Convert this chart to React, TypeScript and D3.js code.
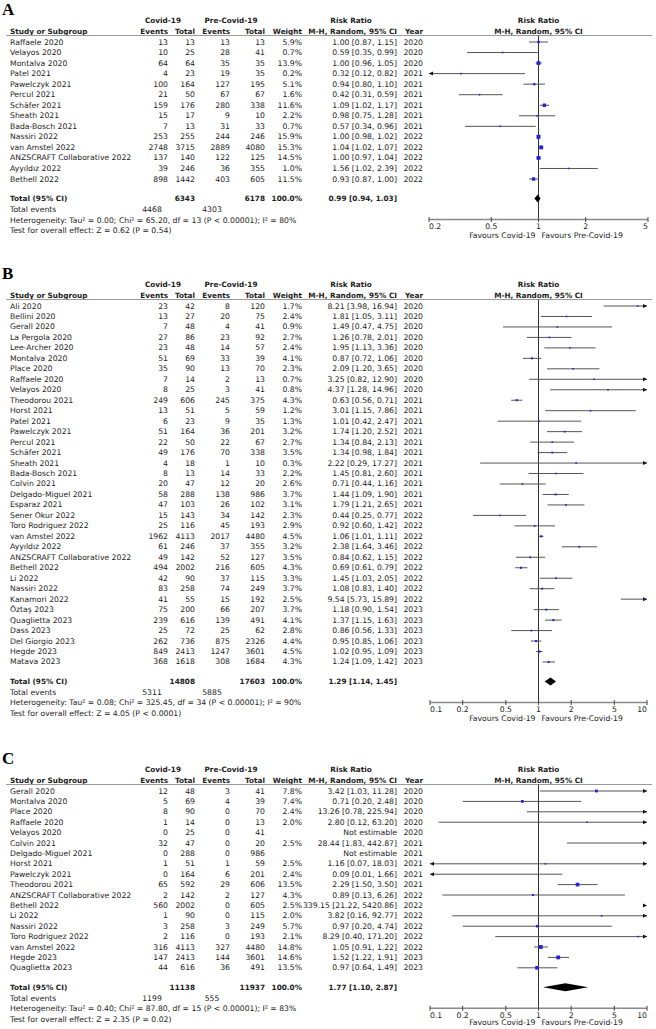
import React from "react";
import * as d3 from "d3";

// ---------------- Panel A ----------------
const studiesA = ["Raffaele 2020", "Velayos 2020", "Montalva 2020", "Patel 2021", "Pawelczyk 2021", "Percul 2021", "Schäfer 2021", "Sheath 2021", "Bada-Bosch 2021", "Nassiri 2022", "van Amstel 2022", "ANZSCRAFT Collaborative 2022", "Ayyıldız 2022", "Bethell 2022"];
const covidEventsA = [13, 10, 64, 4, 100, 21, 159, 15, 7, 253, 2748, 137, 39, 898];
const covidTotalA = [13, 25, 64, 23, 164, 50, 176, 17, 13, 255, 3715, 140, 246, 1442];
const preEventsA = [13, 28, 35, 19, 127, 67, 280, 9, 31, 244, 2889, 122, 36, 403];
const preTotalA = [13, 41, 35, 35, 195, 67, 338, 10, 33, 246, 4080, 125, 355, 605];
const weightA = [5.9, 0.7, 13.9, 0.2, 5.1, 1.6, 11.6, 2.2, 0.7, 15.9, 15.3, 14.5, 1.0, 11.5];
const rrA = [1.0, 0.59, 1.0, 0.32, 0.94, 0.42, 1.09, 0.98, 0.57, 1.0, 1.04, 1.0, 1.56, 0.93];
const lowA = [0.87, 0.35, 0.96, 0.12, 0.8, 0.31, 1.02, 0.75, 0.34, 0.98, 1.02, 0.97, 1.02, 0.87];
const highA = [1.15, 0.99, 1.05, 0.82, 1.1, 0.59, 1.17, 1.28, 0.96, 1.02, 1.07, 1.04, 2.39, 1.0];
const yearA = [2020, 2020, 2020, 2021, 2021, 2021, 2021, 2021, 2021, 2022, 2022, 2022, 2022, 2022];
const totalsA = [6343, 6178];
const totalEventsA = [4468, 4303];
const pooledA = [0.99, 0.94, 1.03];
const hetA = "Heterogeneity: Tau² = 0.00; Chi² = 65.20, df = 13 (P < 0.00001); I² = 80%";
const testA = "Test for overall effect: Z = 0.62 (P = 0.54)";
const ticksA = [0.2, 0.5, 1, 2, 5];

// ---------------- Panel B ----------------
const studiesB = ["Ali 2020", "Bellini 2020", "Gerall 2020", "La Pergola 2020", "Lee-Archer 2020", "Montalva 2020", "Place 2020", "Raffaele 2020", "Velayos 2020", "Theodorou 2021", "Horst 2021", "Patel 2021", "Pawelczyk 2021", "Percul 2021", "Schäfer 2021", "Sheath 2021", "Bada-Bosch 2021", "Colvin 2021", "Delgado-Miguel 2021", "Esparaz 2021", "Sener Okur 2022", "Toro Rodriguez 2022", "van Amstel 2022", "Ayyıldız 2022", "ANZSCRAFT Collaborative 2022", "Bethell 2022", "Li 2022", "Nassiri 2022", "Kanamori 2022", "Öztaş 2023", "Quaglietta 2023", "Dass 2023", "Del Giorgio 2023", "Hegde 2023", "Matava 2023"];
const covidEventsB = [23, 13, 7, 27, 23, 51, 35, 7, 8, 249, 13, 6, 51, 22, 49, 4, 8, 20, 58, 47, 15, 25, 1962, 61, 49, 494, 42, 83, 41, 75, 239, 25, 262, 849, 368];
const covidTotalB = [42, 27, 48, 86, 48, 69, 90, 14, 25, 606, 51, 23, 164, 50, 176, 18, 13, 47, 288, 103, 143, 116, 4113, 246, 142, 2002, 90, 258, 55, 200, 616, 72, 736, 2413, 1618];
const preEventsB = [8, 20, 4, 23, 14, 33, 13, 2, 3, 245, 5, 9, 36, 22, 70, 1, 14, 12, 138, 26, 34, 45, 2017, 37, 52, 216, 37, 74, 15, 66, 139, 25, 875, 1247, 308];
const preTotalB = [120, 75, 41, 92, 57, 39, 70, 13, 41, 375, 59, 35, 201, 67, 338, 10, 33, 20, 986, 102, 142, 193, 4480, 355, 127, 605, 115, 249, 192, 207, 491, 62, 2326, 3601, 1684];
const weightB = [1.7, 2.4, 0.9, 2.7, 2.4, 4.1, 2.3, 0.7, 0.8, 4.3, 1.2, 1.3, 3.2, 2.7, 3.5, 0.3, 2.2, 2.6, 3.7, 3.1, 2.3, 2.9, 4.5, 3.2, 3.5, 4.3, 3.3, 3.7, 2.5, 3.7, 4.1, 2.8, 4.4, 4.5, 4.3];
const rrB = [8.21, 1.81, 1.49, 1.26, 1.95, 0.87, 2.09, 3.25, 4.37, 0.63, 3.01, 1.01, 1.74, 1.34, 1.34, 2.22, 1.45, 0.71, 1.44, 1.79, 0.44, 0.92, 1.06, 2.38, 0.84, 0.69, 1.45, 1.08, 9.54, 1.18, 1.37, 0.86, 0.95, 1.02, 1.24];
const lowB = [3.98, 1.05, 0.47, 0.78, 1.13, 0.72, 1.2, 0.82, 1.28, 0.56, 1.15, 0.42, 1.2, 0.84, 0.98, 0.29, 0.81, 0.44, 1.09, 1.21, 0.25, 0.6, 1.01, 1.64, 0.62, 0.61, 1.03, 0.83, 5.73, 0.9, 1.15, 0.56, 0.85, 0.95, 1.09];
const highB = [16.94, 3.11, 4.75, 2.01, 3.36, 1.06, 3.65, 12.9, 14.96, 0.71, 7.86, 2.47, 2.52, 2.13, 1.84, 17.27, 2.6, 1.16, 1.9, 2.65, 0.77, 1.42, 1.11, 3.46, 1.15, 0.79, 2.05, 1.4, 15.89, 1.54, 1.63, 1.33, 1.06, 1.09, 1.42];
const yearB = [2020, 2020, 2020, 2020, 2020, 2020, 2020, 2020, 2020, 2021, 2021, 2021, 2021, 2021, 2021, 2021, 2021, 2021, 2021, 2021, 2022, 2022, 2022, 2022, 2022, 2022, 2022, 2022, 2022, 2023, 2023, 2023, 2023, 2023, 2023];
const totalsB = [14808, 17603];
const totalEventsB = [5311, 5885];
const pooledB = [1.29, 1.14, 1.45];
const hetB = "Heterogeneity: Tau² = 0.08; Chi² = 325.45, df = 34 (P < 0.00001); I² = 90%";
const testB = "Test for overall effect: Z = 4.05 (P < 0.0001)";
const ticksBC = [0.1, 0.2, 0.5, 1, 2, 5, 10];

// ---------------- Panel C ----------------
const studiesC = ["Gerall 2020", "Montalva 2020", "Place 2020", "Raffaele 2020", "Velayos 2020", "Colvin 2021", "Delgado-Miguel 2021", "Horst 2021", "Pawelczyk 2021", "Theodorou 2021", "ANZSCRAFT Collaborative 2022", "Bethell 2022", "Li 2022", "Nassiri 2022", "Toro Rodriguez 2022", "van Amstel 2022", "Hegde 2023", "Quaglietta 2023"];
const covidEventsC = [12, 5, 8, 1, 0, 32, 0, 1, 0, 65, 2, 560, 1, 3, 2, 316, 147, 44];
const covidTotalC = [48, 69, 90, 14, 25, 47, 288, 51, 164, 592, 142, 2002, 90, 258, 116, 4113, 2413, 616];
const preEventsC = [3, 4, 0, 0, 0, 0, 0, 1, 6, 29, 2, 0, 0, 3, 0, 327, 144, 36];
const preTotalC = [41, 39, 70, 13, 41, 20, 986, 59, 201, 606, 127, 605, 115, 249, 193, 4480, 3601, 491];
const weightC = [7.8, 7.4, 2.4, 2.0, null, 2.5, null, 2.5, 2.4, 13.5, 4.3, 2.5, 2.0, 5.7, 2.1, 14.8, 14.6, 13.5];
const rrC = [3.42, 0.71, 13.26, 2.8, null, 28.44, null, 1.16, 0.09, 2.29, 0.89, 339.15, 3.82, 0.97, 8.29, 1.05, 1.52, 0.97];
const lowC = [1.03, 0.2, 0.78, 0.12, null, 1.83, null, 0.07, 0.01, 1.5, 0.13, 21.22, 0.16, 0.2, 0.4, 0.91, 1.22, 0.64];
const highC = [11.28, 2.48, 225.94, 63.2, null, 442.87, null, 18.03, 1.66, 3.5, 6.26, 5420.86, 92.77, 4.74, 171.2, 1.22, 1.91, 1.49];
const yearC = [2020, 2020, 2020, 2020, 2020, 2021, 2021, 2021, 2021, 2021, 2022, 2022, 2022, 2022, 2022, 2022, 2023, 2023];
const totalsC = [11138, 11937];
const totalEventsC = [1199, 555];
const pooledC = [1.77, 1.1, 2.87];
const hetC = "Heterogeneity: Tau² = 0.40; Chi² = 87.80, df = 15 (P < 0.00001); I² = 83%";
const testC = "Test for overall effect: Z = 2.35 (P = 0.02)";

const FONT = "'DejaVu Sans', Verdana, sans-serif";
const FS = 7.7;
const FSB = 7.3;
const TXT = "#1c1c1c";
const COL = { name: 10, ce: 168, ct: 195, pe: 230, pt: 265, w: 302, ci: 397, yr: 423, evC: 152, evP: 212 };

const fmtCI = (r: number | null, l: number | null, h: number | null) =>
  r == null ? "Not estimable" : `${r.toFixed(2)} [${l!.toFixed(2)}, ${h!.toFixed(2)}]`;

function T(props: any) {
  const { x, y, anchor = "start", bold = false, children, size } = props;
  return (
    <text x={x} y={y} textAnchor={anchor} dominantBaseline="central" fontFamily={FONT}
      fontSize={size ?? (bold ? FSB : FS)} fontWeight={bold ? "bold" : "normal"} fill={TXT}>
      {children}
    </text>
  );
}

function Panel(p: any) {
  const { label, first, rowH, studies, ce, ct, pe, pt, w, rr, lo, hi, years, totals, totEv, pooled, het, test, domain, range, ticks, favGap = 16 } = p;
  const x = d3.scaleLog().domain(domain).range(range);
  const n = studies.length;
  const lineY = first - 6.5;
  const lastY = first + (n - 1) * rowH;
  const totY = lastY + 19.5;
  const axisY = totY + 21;
  const x1 = x(1);
  const [dLo, dHi] = domain;
  const arrowR = (ax: number, y: number) => `M${ax},${y}L${ax - 4},${y - 2}L${ax - 4},${y + 2}Z`;
  const arrowL = (ax: number, y: number) => `M${ax},${y}L${ax + 4},${y - 2}L${ax + 4},${y + 2}Z`;
  return (
    <g>
      <text x={2} y={first - 27} fontFamily="'Liberation Serif', 'Times New Roman', serif" fontWeight="bold" fontSize={17} fill="#000">{label}</text>
      {/* header row 1 */}
      <T x={163} y={first - 22} anchor="middle" bold>Covid-19</T>
      <T x={231} y={first - 22} anchor="middle" bold>Pre-Covid-19</T>
      <T x={351} y={first - 22} anchor="middle" bold>Risk Ratio</T>
      <T x={x1} y={first - 22} anchor="middle" bold>Risk Ratio</T>
      {/* header row 2 */}
      <T x={COL.name} y={first - 11} bold>Study or Subgroup</T>
      <T x={COL.ce} y={first - 11} anchor="end" bold>Events</T>
      <T x={COL.ct} y={first - 11} anchor="end" bold>Total</T>
      <T x={COL.pe} y={first - 11} anchor="end" bold>Events</T>
      <T x={COL.pt} y={first - 11} anchor="end" bold>Total</T>
      <T x={COL.w} y={first - 11} anchor="end" bold>Weight</T>
      <T x={COL.ci} y={first - 11} anchor="end" bold>M-H, Random, 95% CI</T>
      <T x={COL.yr} y={first - 11} anchor="end" bold>Year</T>
      <T x={x1} y={first - 11} anchor="middle" bold>M-H, Random, 95% CI</T>
      <line x1={6} x2={652} y1={lineY} y2={lineY} stroke="#9a9a9a" strokeWidth={1.2} />
      {/* vertical line of no effect */}
      <line x1={x1} x2={x1} y1={lineY} y2={axisY} stroke="#333" strokeWidth={1} />
      {studies.map((s: string, i: number) => {
        const y = first + i * rowH;
        const r = rr[i], l = lo[i], h = hi[i];
        const elems: any[] = [];
        if (r != null) {
          const cl = Math.min(Math.max(l, dLo), dHi);
          const ch = Math.max(Math.min(h, dHi), dLo);
          elems.push(<line key="ci" x1={x(cl)} x2={x(ch)} y1={y} y2={y} stroke="#555" strokeWidth={1} />);
          if (h > dHi) elems.push(<path key="ar" d={arrowR(range[1], y)} fill="#111" />);
          if (l < dLo) elems.push(<path key="al" d={arrowL(range[0], y)} fill="#111" />);
          if (r >= dLo && r <= dHi) {
            const sz = Math.max(1.6, Math.sqrt(w[i]));
            elems.push(<rect key="sq" x={x(r) - sz / 2} y={y - sz / 2} width={sz} height={sz} fill="#2424d8" />);
          }
        }
        return (
          <g key={i}>
            <T x={COL.name} y={y}>{s}</T>
            <T x={COL.ce} y={y} anchor="end">{ce[i]}</T>
            <T x={COL.ct} y={y} anchor="end">{ct[i]}</T>
            <T x={COL.pe} y={y} anchor="end">{pe[i]}</T>
            <T x={COL.pt} y={y} anchor="end">{pt[i]}</T>
            <T x={COL.w} y={y} anchor="end">{w[i] == null ? "" : w[i].toFixed(1) + "%"}</T>
            <T x={COL.ci} y={y} anchor="end">{fmtCI(r, l, h)}</T>
            <T x={COL.yr} y={y} anchor="end">{years[i]}</T>
            {elems}
          </g>
        );
      })}
      {/* total row */}
      <T x={COL.name} y={totY} bold>Total (95% CI)</T>
      <T x={COL.ct} y={totY} anchor="end" bold>{totals[0]}</T>
      <T x={COL.pt} y={totY} anchor="end" bold>{totals[1]}</T>
      <T x={COL.w} y={totY} anchor="end" bold>100.0%</T>
      <T x={COL.ci} y={totY} anchor="end" bold>{fmtCI(pooled[0], pooled[1], pooled[2])}</T>
      <path d={`M${x(pooled[1])},${totY}L${x(pooled[0])},${totY - 4}L${x(pooled[2])},${totY}L${x(pooled[0])},${totY + 4}Z`} fill="#000" />
      <T x={COL.name} y={totY + 11}>Total events</T>
      <T x={COL.evC} y={totY + 11} anchor="middle">{totEv[0]}</T>
      <T x={COL.evP} y={totY + 11} anchor="middle">{totEv[1]}</T>
      <T x={COL.name} y={totY + 21.5}>{het}</T>
      <T x={COL.name} y={totY + 32}>{test}</T>
      {/* axis */}
      <line x1={range[0]} x2={range[1]} y1={axisY} y2={axisY} stroke="#8a8a8a" strokeWidth={1.5} />
      {ticks.map((t: number, i: number) => (
        <g key={t}>
          <line x1={x(t)} x2={x(t)} y1={axisY - 2.5} y2={axisY + 2.5} stroke="#444" strokeWidth={1} />
          <T x={x(t)} y={axisY + 7} anchor={i === 0 ? "start" : i === ticks.length - 1 ? "end" : "middle"}>{String(t)}</T>
        </g>
      ))}
      <T x={x1 - 3} y={axisY + favGap} anchor="end">Favours Covid-19</T>
      <T x={x1 + 3} y={axisY + favGap}>Favours Pre-Covid-19</T>
    </g>
  );
}

export default function App() {
  return (
    <svg width={656} height={1029} style={{ position: "absolute", left: 0, top: 0, background: "#fff" }}>
      <rect width={656} height={1029} fill="#fff" />
      <Panel label="A" first={42} rowH={10.54} studies={studiesA} ce={covidEventsA} ct={covidTotalA} pe={preEventsA} pt={preTotalA}
        w={weightA} rr={rrA} lo={lowA} hi={highA} years={yearA} totals={totalsA} totEv={totalEventsA} pooled={pooledA}
        het={hetA} test={testA} domain={[0.2, 5]} range={[429, 648]} ticks={ticksA} />
      <Panel label="B" first={306} rowH={10.47} studies={studiesB} ce={covidEventsB} ct={covidTotalB} pe={preEventsB} pt={preTotalB}
        w={weightB} rr={rrB} lo={lowB} hi={highB} years={yearB} totals={totalsB} totEv={totalEventsB} pooled={pooledB}
        het={hetB} test={testB} domain={[0.1, 10]} range={[430, 647]} ticks={ticksBC} />
      <Panel label="C" first={791} rowH={10.4} studies={studiesC} ce={covidEventsC} ct={covidTotalC} pe={preEventsC} pt={preTotalC}
        w={weightC} rr={rrC} lo={lowC} hi={highC} years={yearC} totals={totalsC} totEv={totalEventsC} pooled={pooledC}
        het={hetC} test={testC} domain={[0.1, 10]} range={[430, 647]} ticks={ticksBC} favGap={14.5} />
    </svg>
  );
}
